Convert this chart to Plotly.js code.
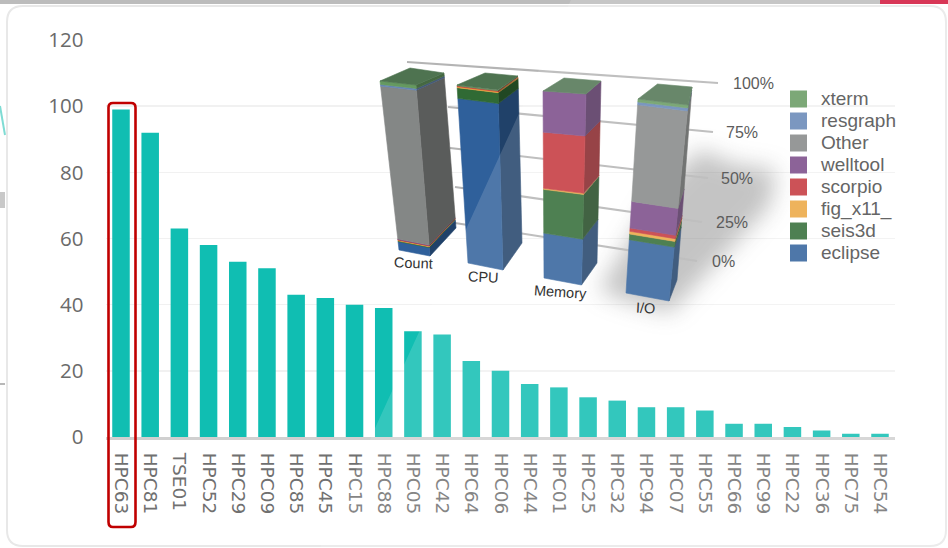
<!DOCTYPE html>
<html><head><meta charset="utf-8">
<script src="https://cdn.plot.ly/plotly-3.0.1.min.js"></script>
<style>html,body{margin:0;padding:0;background:#fff;overflow:hidden}#c{width:948px;height:548px}</style>
</head><body><div id="c"></div>
<script>
const hosts=['HPC63','HPC81','TSE01','HPC52','HPC29','HPC09','HPC85','HPC45','HPC15','HPC88','HPC05','HPC42','HPC64','HPC06','HPC44','HPC01','HPC25','HPC32','HPC94','HPC07','HPC55','HPC66','HPC99','HPC22','HPC36','HPC75','HPC54'];
const hostValues=[99,92,63,58,53,51,43,42,40,39,32,31,23,20,16,15,12,11,9,9,8,4,4,3,2,1,1];
const yTicks=[0,20,40,60,80,100,120];

const seriesNames=['eclipse','seis3d','fig_x11_','scorpio','welltool','Other','resgraph','xterm'];
const seriesColors=['#2f609b','#306a34','#eba640','#c4343a','#784887','#848786','#6485b5','#659960'];
const columnNames=['Count','CPU','Memory','I/O'];
const countShare=[5,0.4,0.5,0.3,0.3,90.5,1,2];
const cpuShare=[92.5,6,0.6,0.5,0,0,0,0.4];
const memoryShare=[24,23.4,0.6,30,22,0,0,0];
const ioShare=[27.5,2.9,1.4,1.7,13.7,49.8,1.5,1.5];
const shares=[countShare,cpuShare,memoryShare,ioShare];
const pctTicks=[0,25,50,75,100];

// picture-space projection of the 3-D inset
const W=948,H=548,PX0=106.4,PX1=894.6,PY0=437,PY1=40;
const boxes=[
 {tl:[380,81],tr:[416,85],bl:[399,250],br:[430,256],rt:[444,73],rb:[456,228],bk:[410,68],lab:[413,263]},
 {tl:[457,85],tr:[498,90],bl:[468,263],br:[503,270],rt:[518,76],rb:[522,243],bk:[485,73],lab:[483,277]},
 {tl:[543,91],tr:[586,94],bl:[544,278],br:[581.5,285],rt:[601,81],rb:[597,263],bk:[564,78],lab:[560,292]},
 {tl:[638,99],tr:[688,105],bl:[626,293],br:[669,301],rt:[692,87],rb:[677,280],bk:[657.5,84],lab:[645,308]}];
const gridEnds={0:[[455,223],[697,261],[723,261]],25:[[455,187],[702,222],[732,222]],50:[[450,148],[708,178],[737,178]],75:[[448,107],[713,132],[742,132]],100:[[407,62],[718,83],[753,83]]};
const lerp=(a,b,t)=>[a[0]+(b[0]-a[0])*t,a[1]+(b[1]-a[1])*t];
function shade(hex,k){const n=parseInt(hex.slice(1),16);return `rgb(${Math.round((n>>16)*k)},${Math.round(((n>>8)&255)*k)},${Math.round((n&255)*k)})`;}
function poly(pts,color){return {type:'scatter',mode:'lines',xaxis:'x2',yaxis:'y2',x:pts.map(p=>p[0]).concat(pts[0][0]),y:pts.map(p=>p[1]).concat(pts[0][1]),fill:'toself',fillcolor:color,line:{width:0.6,color:color},hoverinfo:'skip'};}

const traces=[{type:'bar',x:hosts,y:hostValues,marker:{color:'#10beb2',line:{width:0}},hoverinfo:'skip'}];
// soft shadow behind the last column
traces.push(poly([[625,300],[670,312],[700,280],[770,205],[775,170],[735,165],[700,150],[660,190],[600,290]],'rgba(90,90,90,0.42)'));
// inset grid
pctTicks.forEach(p=>{const g=gridEnds[p];traces.push({type:'scatter',mode:'lines',xaxis:'x2',yaxis:'y2',x:[g[0][0],g[1][0]],y:[g[0][1],g[1][1]],line:{color:'#b4b4b4',width:2.2},hoverinfo:'skip'});});
// inset columns
boxes.forEach((b,ci)=>{
  let acc=0;
  shares[ci].forEach((v,si)=>{
    if(v<=0)return;
    const t0=acc/100,t1=(acc+v)/100;acc+=v;
    traces.push(poly([lerp(b.tr,b.br,1-t0),lerp(b.rt,b.rb,1-t0),lerp(b.rt,b.rb,1-t1),lerp(b.tr,b.br,1-t1)],shade(seriesColors[si],0.68)));
    traces.push(poly([lerp(b.tl,b.bl,1-t0),lerp(b.tr,b.br,1-t0),lerp(b.tr,b.br,1-t1),lerp(b.tl,b.bl,1-t1)],seriesColors[si]));
  });
  traces.push(poly([b.tl,b.bk,b.rt,b.tr],'#4e7350'));
});
// inset legend
const legendY=[253,231,209,187,165,143,121,99];
traces.push({type:'scatter',mode:'markers',xaxis:'x2',yaxis:'y2',x:seriesNames.map(()=>798.5),y:legendY,
  marker:{symbol:'square',size:17,color:seriesColors,line:{width:0}},hoverinfo:'skip'});
traces.push({type:'scatter',mode:'text',xaxis:'x2',yaxis:'y2',x:seriesNames.map(()=>821),y:legendY.map(v=>v+1),text:seriesNames,textposition:'middle right',
  textfont:{family:'Liberation Sans, Arial, sans-serif',size:19,color:'#4a4a4a'},cliponaxis:false,hoverinfo:'skip'});

const ann=[];
pctTicks.forEach(p=>{const g=gridEnds[p][2];ann.push({xref:'x2',yref:'y2',x:g[0],y:g[1],text:p+'%',showarrow:false,font:{family:'Liberation Sans, Arial, sans-serif',size:16,color:'#5c5c5c'}});});
boxes.forEach((b,i)=>ann.push({xref:'x2',yref:'y2',x:b.lab[0],y:b.lab[1],text:columnNames[i],showarrow:false,textangle:i==2?4:(i==0?2:3),font:{family:'Liberation Sans, Arial, sans-serif',size:14.5,color:'#333'}}));

// helpers to place page-level shapes in paper space, so they stay beneath every subplot
const px=x=>(x/W).toFixed(5), py=y=>(1-y/H).toFixed(5);
const cardPath=`M ${px(7)} ${py(22)} Q ${px(7)} ${py(6)} ${px(23)} ${py(6)} L ${px(930)} ${py(6)} Q ${px(946)} ${py(6)} ${px(946)} ${py(22)} L ${px(946)} ${py(530)} Q ${px(946)} ${py(546)} ${px(930)} ${py(546)} L ${px(23)} ${py(546)} Q ${px(7)} ${py(546)} ${px(7)} ${py(530)} Z`;
const redPath='M 113 103 L 131 103 Q 135.5 103 135.5 107.5 L 135.5 522 Q 135.5 527 131 527 L 113 527 Q 108.5 527 108.5 522 L 108.5 107.5 Q 108.5 103 113 103 Z';
const shapes=[
 {type:'rect',layer:'below',xref:'paper',yref:'paper',x0:0,x1:1,y0:1-4/H,y1:1,fillcolor:'#bcbcbc',line:{width:0}},
 {type:'rect',layer:'below',xref:'paper',yref:'paper',x0:880/W,x1:1,y0:1-4/H,y1:1,fillcolor:'#d2143a',line:{width:0}},
 {type:'path',layer:'below',xref:'paper',yref:'paper',path:`M ${px(0)} ${py(106)} L ${px(5)} ${py(135)}`,line:{color:'#7fdcd4',width:2}},
 {type:'rect',layer:'below',xref:'paper',yref:'paper',x0:0,x1:5/W,y0:1-208/H,y1:1-192/H,fillcolor:'#c8c8c8',line:{width:0}},
 {type:'rect',layer:'below',xref:'paper',yref:'paper',x0:0,x1:5/W,y0:1-385/H,y1:1-383/H,fillcolor:'#b8b8b8',line:{width:0}},
 {type:'path',layer:'below',xref:'paper',yref:'paper',path:cardPath,fillcolor:'#ffffff',line:{color:'#e8e8e8',width:2}},
 {type:'path',layer:'above',xref:'x2',yref:'y2',path:'M 371 437 L 580 -20 L 948 -20 L 948 548 L 320 548 Z',fillcolor:'rgba(255,255,255,0.15)',line:{width:0}},
 {type:'path',layer:'above',xref:'x2',yref:'y2',path:redPath,fillcolor:'rgba(0,0,0,0)',line:{color:'#c00000',width:2.6}}
];

const layout={width:W,height:H,margin:{l:0,r:0,t:0,b:0},paper_bgcolor:'#ffffff',plot_bgcolor:'rgba(0,0,0,0)',showlegend:false,hovermode:false,bargap:0.4,
 xaxis:{domain:[PX0/W,PX1/W],anchor:'y',type:'category',categoryorder:'array',categoryarray:hosts,tickangle:90,ticks:'',ticklabelstandoff:9,ticklabelshift:-1.5,showgrid:false,zeroline:false,
   showline:true,linecolor:'#d0d0d0',linewidth:3,tickfont:{family:'DejaVu Sans, sans-serif',size:18.5,color:'#707070'}},
 yaxis:{domain:[(H-PY0)/H,(H-PY1)/H],anchor:'x',range:[0,120],tickvals:yTicks,ticks:'',ticklabelstandoff:22,gridcolor:'#f1f1f1',gridwidth:1.5,zeroline:false,showline:false,
   tickfont:{family:'Open Sans, sans-serif',size:20.5,color:'#6a6a6a'}},
 xaxis2:{domain:[0,1],anchor:'y2',range:[0,W],visible:false,fixedrange:true},
 yaxis2:{domain:[0,1],anchor:'x2',range:[H,0],visible:false,fixedrange:true},
 annotations:ann,shapes:shapes};
Plotly.newPlot('c',traces,layout,{staticPlot:true,displayModeBar:false}).then(gd=>{
  const t=gd.querySelectorAll('.x2y2 .scatterlayer .trace');
  t.forEach((g,i)=>{ if(i===0) g.style.filter='blur(11px)'; else if(i<t.length-1) g.style.filter='blur(0.6px)'; });
});
</script></body></html>
